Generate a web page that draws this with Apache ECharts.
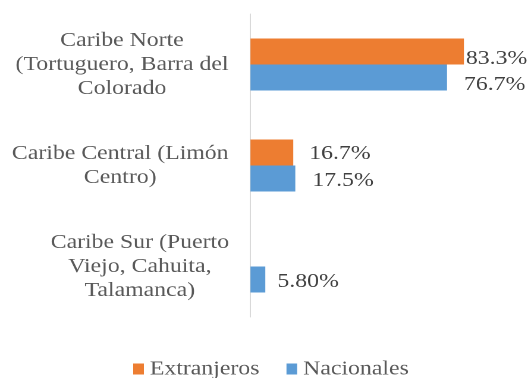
<!DOCTYPE html>
<html>
<head>
<meta charset="utf-8">
<script src="https://cdn.jsdelivr.net/npm/echarts@6/dist/echarts.min.js"></script>
<style>
  html, body { margin: 0; padding: 0; background: #fff; overflow: hidden; }
  /* The chart is laid out on a narrower canvas and widened, giving the wide serif lettering */
  #chart { width: 444px; height: 378px; transform: scaleX(1.18919); transform-origin: 0 0; }
</style>
</head>
<body>
<div id="chart"></div>
<script>
// Regions (each entry holds the wrapped lines of its axis label)
const regions = [
  ['Caribe Norte', '(Tortuguero, Barra del', 'Colorado'],
  ['Caribe Central (Limón', 'Centro)'],
  ['Caribe Sur (Puerto', 'Viejo, Cahuita,', 'Talamanca)']
];
const seriesNames = ['Extranjeros', 'Nacionales'];
// Share of visitors per region, in percent
const extranjeros = [83.3, 16.7, null];
const nacionales = [76.7, 17.5, 5.80];
// Decimals shown in each value label
const extDecimals = [1, 1, 1];
const natDecimals = [1, 1, 2];

const SX = 528 / 444;           // horizontal widening applied by CSS
const FONT = 'Liberation Serif';
const FS = 20;

// Measure each region's widest line so its lines can be centred in one block
const ctx = document.createElement('canvas').getContext('2d');
ctx.font = FS + 'px "' + FONT + '"';
const rich = {};
regions.forEach((lines, i) => {
  const w = Math.max(...lines.map(l => ctx.measureText(l).width));
  rich['r' + i] = { width: Math.ceil(w), align: 'center', fontSize: FS, fontFamily: FONT, color: '#595959', lineHeight: 24 };
});
const categoryKeys = regions.map((_, i) => String(i));

// Hand-placed value labels: gap after the bar end (screen px) and vertical shift
const labelPlacement = {
  Extranjeros: [{ gap: 2, dy: 7 }, { gap: 16, dy: 1 }, { gap: 16, dy: 0 }],
  Nacionales: [{ gap: 17, dy: 7 }, { gap: 17, dy: 2 }, { gap: 12, dy: 2 }]
};

const chart = echarts.init(document.getElementById('chart'), null, { renderer: 'canvas', devicePixelRatio: 2 });

function barSeries(name, values, decimals) {
  return {
    name: name,
    type: 'bar',
    barWidth: 26,
    barGap: '0%',
    data: values.map((v, i) => ({
      value: v == null ? '-' : v,
      label: {
        distance: labelPlacement[name][i].gap / SX,
        offset: [0, labelPlacement[name][i].dy]
      }
    })),
    label: {
      show: true,
      position: 'right',
      color: '#404040',
      fontSize: FS,
      fontFamily: FONT,
      formatter: (p) => p.value === '-' ? '' : Number(p.value).toFixed(decimals[p.dataIndex]) + '%'
    }
  };
}

chart.setOption({
  animation: false,
  color: ['#ED7D31', '#5B9BD5'],
  textStyle: { fontFamily: FONT },
  grid: { left: 210.6, right: 17.9, top: 14, bottom: 61, containLabel: false },
  legend: {
    bottom: -6,
    left: 107,
    itemWidth: 9,
    itemHeight: 11,
    itemGap: 22.7,
    icon: 'rect',
    textStyle: { fontSize: FS, fontFamily: FONT, color: '#595959' },
    data: seriesNames
  },
  xAxis: { type: 'value', min: 0, max: 100, show: false },
  yAxis: {
    type: 'category',
    inverse: true,
    data: categoryKeys,
    axisLine: { show: true, lineStyle: { color: '#D9D9D9', width: 1 } },
    axisTick: { show: false },
    axisLabel: {
      margin: 18,
      align: 'right',
      fontFamily: FONT,
      fontSize: FS,
      formatter: (v) => regions[+v].map(l => '{r' + v + '|' + l + '}').join('\n'),
      rich: rich
    }
  },
  series: [
    barSeries(seriesNames[0], extranjeros, extDecimals),
    barSeries(seriesNames[1], nacionales, natDecimals)
  ]
});
</script>
</body>
</html>
